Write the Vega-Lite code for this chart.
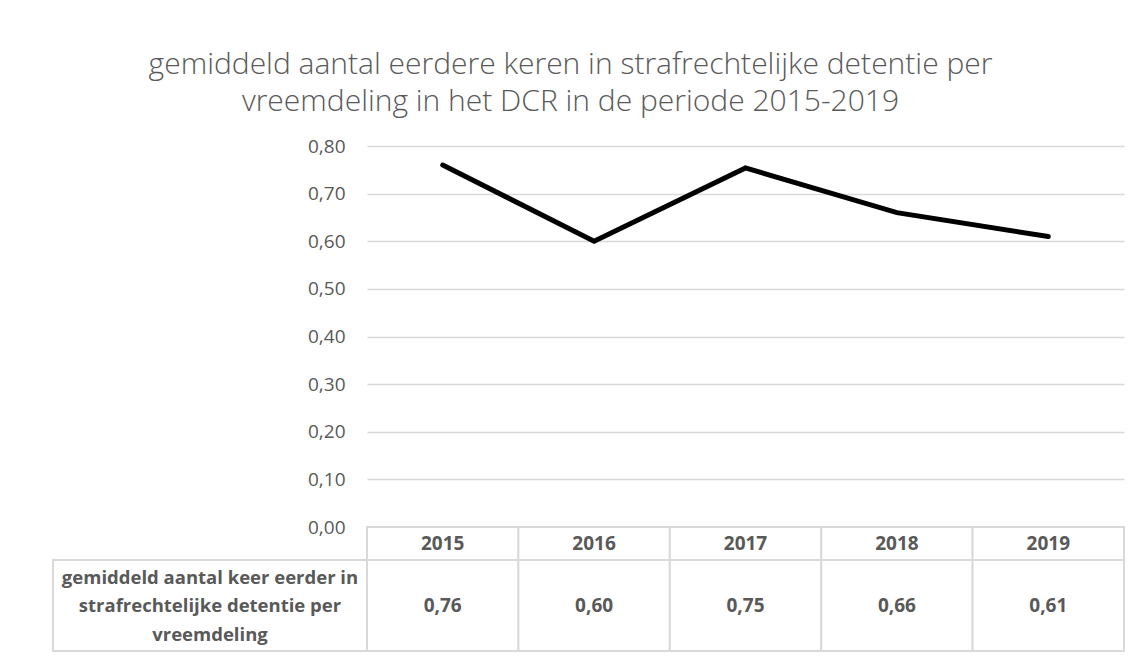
{
  "$schema": "https://vega.github.io/schema/vega-lite/v6.json",
  "padding": {"left": 52, "top": 50, "right": 16, "bottom": 5},
  "title": {
    "text": ["gemiddeld aantal eerdere keren in strafrechtelijke detentie per", "vreemdeling in het DCR in de periode 2015-2019"],
    "font": "Open Sans",
    "fontSize": 30,
    "fontWeight": 300,
    "color": "#595959",
    "lineHeight": 37,
    "anchor": "middle",
    "dx": -18,
    "offset": 20
  },
  "datasets": {
    "main": [
      {"jaar": "2015", "waarde": 0.76},
      {"jaar": "2016", "waarde": 0.6},
      {"jaar": "2017", "waarde": 0.754},
      {"jaar": "2018", "waarde": 0.66},
      {"jaar": "2019", "waarde": 0.61}
    ],
    "rij": [
      {"label": "gemiddeld aantal keer eerder in\nstrafrechtelijke detentie per\nvreemdeling"}
    ]
  },
  "columns": 2,
  "spacing": 0,
  "bounds": "flush",
  "concat": [
    {
      "width": 314, "height": 381,
      "data": {"values": [{"a": 1}]},
      "mark": {"type": "point", "opacity": 0, "size": 1},
      "encoding": {}
    },
    {
      "width": 757, "height": 381,
      "data": {"name": "main"},
      "mark": {"type": "line", "color": "#000000", "strokeWidth": 5, "strokeCap": "round", "strokeJoin": "miter"},
      "encoding": {
        "x": {"field": "jaar", "type": "ordinal", "scale": {"type": "point", "padding": 0.5}, "axis": null},
        "y": {
          "field": "waarde", "type": "quantitative",
          "scale": {"domain": [0, 0.8], "nice": false},
          "axis": {
            "values": [0, 0.1, 0.2, 0.3, 0.4, 0.5, 0.6, 0.7, 0.8],
            "format": ".2f",
            "title": null,
            "domain": false,
            "ticks": false,
            "grid": true,
            "gridColor": "#d9d9d9",
            "gridWidth": 1.5,
            "labelFont": "Open Sans",
            "labelFontSize": 19,
            "labelColor": "#595959",
            "labelPadding": 22
          }
        }
      }
    },
    {
      "width": 314, "height": 33,
      "data": {"values": [{"a": 1}]},
      "mark": {"type": "point", "opacity": 0, "size": 1},
      "encoding": {}
    },
    {
      "width": 757, "height": 33,
      "data": {"name": "main"},
      "encoding": {
        "x": {"field": "jaar", "type": "ordinal", "scale": {"paddingInner": 0, "paddingOuter": 0}, "axis": null}
      },
      "layer": [
        {"mark": {"type": "rect", "fill": "#ffffff", "stroke": "#d9d9d9", "strokeWidth": 2}},
        {"mark": {"type": "text", "font": "Open Sans", "fontWeight": "bold", "fontSize": 19, "color": "#595959", "baseline": "middle"},
         "encoding": {"text": {"field": "jaar"}}}
      ]
    },
    {
      "width": 314, "height": 91,
      "data": {"name": "rij"},
      "layer": [
        {"mark": {"type": "rect", "fill": "#ffffff", "stroke": "#d9d9d9", "strokeWidth": 2}, "encoding": {}},
        {"mark": {"type": "text", "font": "Open Sans", "fontWeight": "bold", "fontSize": 18.5, "color": "#595959", "baseline": "middle", "lineBreak": "\n", "lineHeight": 28.5, "dy": -28},
         "encoding": {"text": {"field": "label"}}}
      ]
    },
    {
      "width": 757, "height": 91,
      "data": {"name": "main"},
      "encoding": {
        "x": {"field": "jaar", "type": "ordinal", "scale": {"paddingInner": 0, "paddingOuter": 0}, "axis": null}
      },
      "layer": [
        {"mark": {"type": "rect", "fill": "#ffffff", "stroke": "#d9d9d9", "strokeWidth": 2}},
        {"mark": {"type": "text", "font": "Open Sans", "fontWeight": "bold", "fontSize": 19, "color": "#595959", "baseline": "middle"},
         "encoding": {"text": {"field": "waarde", "type": "quantitative", "format": ".2f"}}}
      ]
    }
  ],
  "config": {
    "view": {"stroke": null},
    "locale": {"number": {"decimal": ",", "thousands": ".", "grouping": [3], "currency": ["€ ", ""]}}
  }
}
